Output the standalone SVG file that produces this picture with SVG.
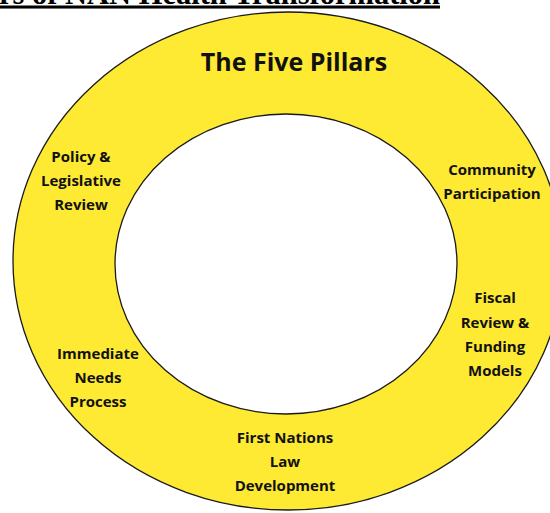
<svg xmlns="http://www.w3.org/2000/svg" width="550" height="513" viewBox="0 0 550 513">
  <style>
    .heading { font-family: "Liberation Serif", "Times New Roman", serif; font-weight: bold; font-size: 30.5px; fill: #000; text-decoration: underline; }
    .ring { fill: #FEE933; stroke: #1a1a1a; stroke-width: 1.3; }
    .hole { fill: #ffffff; stroke: #1a1a1a; stroke-width: 1.3; }
    .title { font-family: "Open Sans", "Liberation Sans", sans-serif; font-weight: bold; font-size: 25px; fill: #111; text-anchor: middle; }
    .label { font-family: "Open Sans", "Liberation Sans", sans-serif; font-weight: bold; font-size: 15px; fill: #111; text-anchor: middle; }
  </style>

  <!-- page heading, running off the top edge -->
  <text class="heading" x="440" y="3.5" text-anchor="end">rs of NAN Health Transformation</text>

  <!-- yellow ring -->
  <g id="ring">
    <ellipse class="ring" cx="288" cy="261" rx="275" ry="249"/>
    <ellipse class="hole" cx="286" cy="264" rx="171" ry="150"/>
    <text class="title" x="294" y="71">The Five Pillars</text>
  </g>

  <g id="policy">
    <text class="label" x="81" y="162">Policy &amp;</text>
    <text class="label" x="81" y="186">Legislative</text>
    <text class="label" x="81" y="210">Review</text>
  </g>

  <g id="community">
    <text class="label" x="492" y="175">Community</text>
    <text class="label" x="492" y="199">Participation</text>
  </g>

  <g id="fiscal">
    <text class="label" x="495" y="303">Fiscal</text>
    <text class="label" x="495" y="328">Review &amp;</text>
    <text class="label" x="495" y="352">Funding</text>
    <text class="label" x="495" y="376">Models</text>
  </g>

  <g id="immediate">
    <text class="label" x="98" y="359">Immediate</text>
    <text class="label" x="98" y="383">Needs</text>
    <text class="label" x="98" y="407">Process</text>
  </g>

  <g id="law">
    <text class="label" x="285" y="443">First Nations</text>
    <text class="label" x="285" y="467">Law</text>
    <text class="label" x="285" y="491">Development</text>
  </g>

  <g id="connectors"></g>
</svg>
